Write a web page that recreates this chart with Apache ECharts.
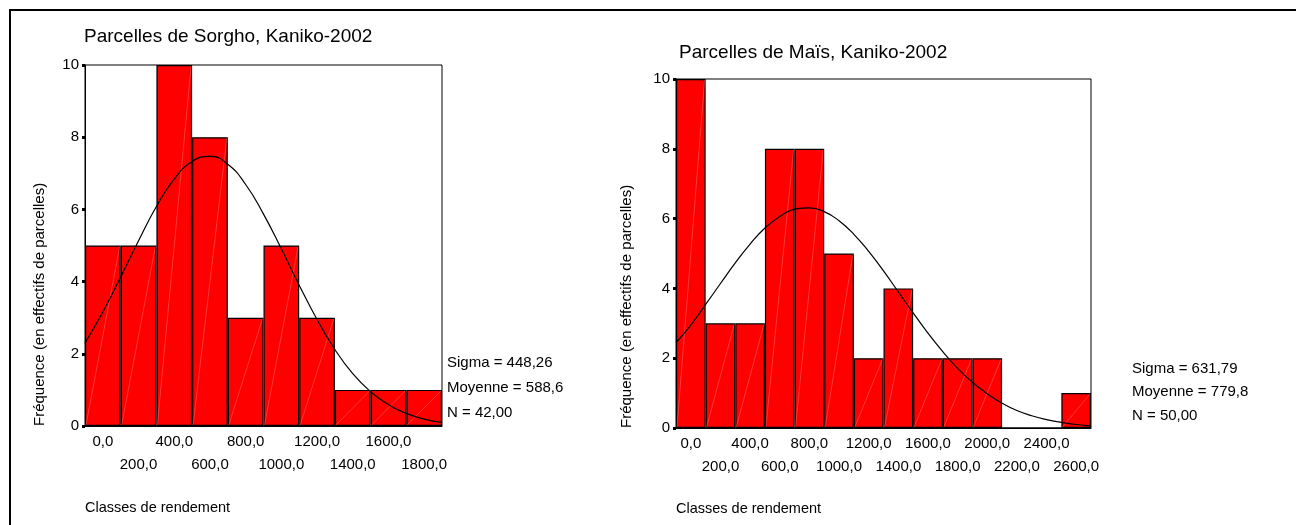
<!DOCTYPE html>
<html>
<head>
<meta charset="utf-8">
<script src="https://cdn.jsdelivr.net/npm/echarts@6/dist/echarts.min.js"></script>
<style>
  html, body { margin: 0; padding: 0; background: #fff; }
  #chart { width: 1296px; height: 525px; }
</style>
</head>
<body>
<div id="chart"></div>
<script>
// Sorgho
const sorghoCats = ['0,0', '200,0', '400,0', '600,0', '800,0', '1000,0', '1200,0', '1400,0', '1600,0', '1800,0'];
const sorghoCounts = [5, 5, 10, 8, 3, 5, 3, 1, 1, 1];
const sorghoCurveX = [-100, 0, 100, 200, 300, 400, 500, 600, 700, 800, 900, 1000, 1100, 1200, 1300, 1400, 1500, 1600, 1700, 1800, 1900];
const sorghoCurveY = [2.30, 3.16, 4.13, 5.13, 6.08, 6.84, 7.33, 7.47, 7.25, 6.69, 5.87, 4.91, 3.90, 2.95, 2.12, 1.45, 0.95, 0.59, 0.35, 0.19, 0.10];
const sorghoStats = ['Sigma = 448,26', 'Moyenne = 588,6', 'N = 42,00'];

// Maïs
const maisCats = ['0,0', '200,0', '400,0', '600,0', '800,0', '1000,0', '1200,0', '1400,0', '1600,0', '1800,0', '2000,0', '2200,0', '2400,0', '2600,0'];
const maisCounts = [10, 3, 3, 8, 8, 5, 2, 4, 2, 2, 2, 0, 0, 1];
const maisCurveX = [-100, 0, 100, 200, 300, 400, 500, 600, 700, 800, 900, 1000, 1100, 1200, 1300, 1400, 1500, 1600, 1700, 1800, 1900, 2000, 2100, 2200, 2300, 2400, 2500, 2600, 2700];
const maisCurveY = [2.45, 2.95, 3.54, 4.14, 4.73, 5.27, 5.73, 6.06, 6.27, 6.31, 6.20, 5.94, 5.55, 5.06, 4.50, 3.90, 3.30, 2.72, 2.19, 1.71, 1.31, 0.98, 0.71, 0.50, 0.35, 0.24, 0.16, 0.10, 0.06];
const maisStats = ['Sigma = 631,79', 'Moyenne = 779,8', 'N = 50,00'];

const yTicks = { min: 0, max: 10, interval: 2 };
const FONT = '"Liberation Sans", Arial, sans-serif';

const chart = echarts.init(document.getElementById('chart'));

function catAxis(gridIndex, cats) {
    return {
        type: 'category',
        gridIndex: gridIndex,
        data: cats,
        boundaryGap: true,
        axisLine: { onZero: false, lineStyle: { color: '#000', width: 1 } },
        axisTick: { alignWithLabel: true, length: 3, lineStyle: { color: '#000', width: 2 } },
        axisLabel: {
            interval: 0,
            color: '#000',
            fontSize: 15,
            fontFamily: FONT,
            lineHeight: 23,
            margin: 4,
            formatter: (v, i) => (i % 2 ? '\n' + v : v)
        }
    };
}

function valAxis(gridIndex, max) {
    return { type: 'value', gridIndex: gridIndex, min: -100, max: max, show: false };
}

function yAxis(gridIndex) {
    return {
        type: 'value',
        gridIndex: gridIndex,
        min: yTicks.min,
        max: yTicks.max,
        interval: yTicks.interval,
        splitLine: { show: false },
        axisLine: { show: true, onZero: false, lineStyle: { color: '#000', width: 1 } },
        axisTick: { show: true, length: 3, lineStyle: { color: '#000', width: 3 } },
        axisLabel: { color: '#000', fontSize: 15, fontFamily: FONT, margin: 6 }
    };
}

// faint diagonal line drawn across each bar
function hatch(xIdx, yIdx, data) {
    return {
        type: 'custom',
        xAxisIndex: xIdx,
        yAxisIndex: yIdx,
        silent: true,
        z: 3,
        data: data,
        renderItem: function (params, api) {
            const v = api.value(1);
            if (!v) return;
            const top = api.coord([api.value(0), v]);
            const bot = api.coord([api.value(0), 0]);
            const w = api.size([1, 0])[0];
            return {
                type: 'line',
                shape: { x1: top[0] - w / 2 + 1, y1: bot[1] - 1, x2: top[0] + w / 2 - 1, y2: top[1] + 1 },
                style: { stroke: 'rgba(255,170,170,0.55)', lineWidth: 0.6 }
            };
        }
    };
}

function statsText(x, ys, lines) {
    return lines.map((t, i) => ({
        type: 'text', x: x, y: ys[i],
        style: { text: t, fill: '#000', font: '15px ' + FONT, verticalAlign: 'middle' }
    }));
}

chart.setOption({
    animation: false,
    grid: [
        { left: 85, top: 65, width: 357, height: 361, show: true, borderColor: '#000', borderWidth: 1, backgroundColor: '#fff' },
        { left: 676, top: 79, width: 415, height: 349, show: true, borderColor: '#000', borderWidth: 1, backgroundColor: '#fff' }
    ],
    xAxis: [
        catAxis(0, sorghoCats),
        valAxis(0, 1900),
        catAxis(1, maisCats),
        valAxis(1, 2700)
    ],
    yAxis: [yAxis(0), yAxis(1)],
    series: [
        {
            type: 'bar', xAxisIndex: 0, yAxisIndex: 0, data: sorghoCounts,
            barWidth: '100%', barGap: 0,
            itemStyle: { color: '#ff0000', borderColor: '#000', borderWidth: 1.2 }
        },
        hatch(0, 0, sorghoCounts.map((v, i) => [i, v])),
        {
            type: 'line', xAxisIndex: 1, yAxisIndex: 0, z: 5,
            data: sorghoCurveX.map((x, i) => [x, sorghoCurveY[i]]),
            smooth: true, symbol: 'none',
            lineStyle: { color: '#000', width: 1.2 }
        },
        {
            type: 'bar', xAxisIndex: 2, yAxisIndex: 1, data: maisCounts,
            barWidth: '100%', barGap: 0,
            itemStyle: { color: '#ff0000', borderColor: '#000', borderWidth: 1.2 }
        },
        hatch(2, 1, maisCounts.map((v, i) => [i, v])),
        {
            type: 'line', xAxisIndex: 3, yAxisIndex: 1, z: 5,
            data: maisCurveX.map((x, i) => [x, maisCurveY[i]]),
            smooth: true, symbol: 'none',
            lineStyle: { color: '#000', width: 1.2 }
        }
    ],
    graphic: [
        // outer frame
        { type: 'line', shape: { x1: 9, y1: 10, x2: 1296, y2: 10 }, style: { stroke: '#000', lineWidth: 2 } },
        { type: 'line', shape: { x1: 10, y1: 10, x2: 10, y2: 525 }, style: { stroke: '#000', lineWidth: 2 } },
        // titles
        { type: 'text', x: 84, y: 37, style: { text: 'Parcelles de Sorgho, Kaniko-2002', fill: '#000', font: '19px ' + FONT, verticalAlign: 'middle' } },
        { type: 'text', x: 679, y: 53, style: { text: 'Parcelles de Maïs, Kaniko-2002', fill: '#000', font: '19px ' + FONT, verticalAlign: 'middle' } },
        // y names
        { type: 'text', x: 40, y: 426, rotation: Math.PI / 2, style: { text: 'Fréquence (en effectifs de parcelles)', fill: '#000', font: '15px ' + FONT, align: 'left', verticalAlign: 'middle' } },
        { type: 'text', x: 627, y: 428, rotation: Math.PI / 2, style: { text: 'Fréquence (en effectifs de parcelles)', fill: '#000', font: '15px ' + FONT, align: 'left', verticalAlign: 'middle' } },
        // x names
        { type: 'text', x: 85, y: 508, style: { text: 'Classes de rendement', fill: '#000', font: '14.5px ' + FONT, verticalAlign: 'middle' } },
        { type: 'text', x: 676, y: 509, style: { text: 'Classes de rendement', fill: '#000', font: '14.5px ' + FONT, verticalAlign: 'middle' } }
    ]
        .concat(statsText(447, [363, 388, 413], sorghoStats))
        .concat(statsText(1132, [369, 392, 416], maisStats))
});
</script>
</body>
</html>
